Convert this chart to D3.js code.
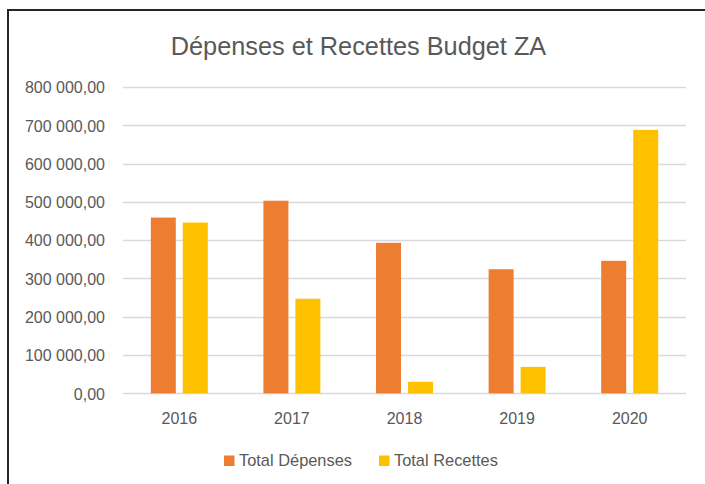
<!DOCTYPE html>
<html><head><meta charset="utf-8">
<script src="https://cdn.jsdelivr.net/npm/d3@7"></script>
<style>body{margin:0;background:#fff}svg{display:block}</style>
</head><body>
<svg id="c" width="705" height="484"></svg>
<script>
const categories = ["2016","2017","2018","2019","2020"];
const seriesNames = ["Total Dépenses","Total Recettes"];
const depenses = [459000, 503000, 393000, 324000, 346000];
const recettes = [446000, 247000, 30000, 69000, 688000];
const yTicks = [0,100000,200000,300000,400000,500000,600000,700000,800000];
const colors = ["#ED7D31","#FFC000"];
const title = "Dépenses et Recettes Budget ZA";

const svg = d3.select("#c");
const font = "'Liberation Sans', Arial, sans-serif";
const grey = "#595959";

// frame (top and left only visible)
svg.append("line").attr("x1",8).attr("x2",705).attr("y1",10).attr("y2",10).attr("stroke","#262626").attr("stroke-width",2);
svg.append("line").attr("x1",8).attr("x2",8).attr("y1",9).attr("y2",484).attr("stroke","#262626").attr("stroke-width",2);

svg.append("text").attr("x",358.5).attr("y",55).attr("text-anchor","middle")
  .attr("font-family",font).attr("font-size",25.3).attr("fill",grey).text(title);

const x0 = d3.scaleBand().domain(categories).range([123,686]);
const x1 = d3.scaleBand().domain(seriesNames).range([0,x0.bandwidth()]).paddingInner(0.21875).paddingOuter(0.87);
const y = d3.scaleLinear().domain([0,800000]).range([393.3,87]);
const loc = d3.formatLocale({decimal:",",thousands:"\u00a0",grouping:[3],currency:["",""]});
const fmt = loc.format(",.2f");

// gridlines
svg.append("g").selectAll("line").data(yTicks).join("line")
  .attr("x1",123).attr("x2",686)
  .attr("y1",d=>Math.round(y(d))+0.5).attr("y2",d=>Math.round(y(d))+0.5)
  .attr("stroke","#d9d9d9").attr("stroke-width",1.3);

// y axis labels
const yAxis = d3.axisLeft(y).tickValues(yTicks).tickFormat(d=>fmt(d).replace(/\u00a0/g," ")).tickSize(0).tickPadding(0);
const gy = svg.append("g").attr("transform","translate(105,0)").call(yAxis);
gy.select(".domain").remove();
gy.selectAll("text").attr("font-family",font).attr("font-size",16).attr("fill",grey).attr("dy","0.36em");

// bars
const data = categories.map((c,i)=>({cat:c, vals:[depenses[i],recettes[i]]}));
const groups = svg.append("g").selectAll("g").data(data).join("g")
  .attr("transform",d=>`translate(${x0(d.cat)},0)`);
groups.selectAll("rect").data(d=>d.vals.map((v,j)=>({s:seriesNames[j],v,j}))).join("rect")
  .attr("x",d=>x1(d.s)).attr("width",x1.bandwidth())
  .attr("y",d=>y(d.v)).attr("height",d=>y(0)-y(d.v))
  .attr("fill",d=>colors[d.j]);

// x axis
const xAxis = d3.axisBottom(x0).tickSize(0).tickPadding(0);
const gx = svg.append("g").attr("transform","translate(0,424)").call(xAxis);
gx.select(".domain").remove();
gx.selectAll("text").attr("font-family",font).attr("font-size",16).attr("fill",grey).attr("dy","0");

// legend
const legX = [224, 379];
const leg = svg.append("g").selectAll("g").data(seriesNames).join("g")
  .attr("transform",(d,i)=>`translate(${legX[i]},0)`);
leg.append("rect").attr("x",0).attr("y",455.5).attr("width",10.5).attr("height",10.5).attr("fill",(d,i)=>colors[i]);
leg.append("text").attr("x",15).attr("y",466).attr("font-family",font).attr("font-size",16.4).attr("fill",grey).text(d=>d);
</script>
</body></html>
